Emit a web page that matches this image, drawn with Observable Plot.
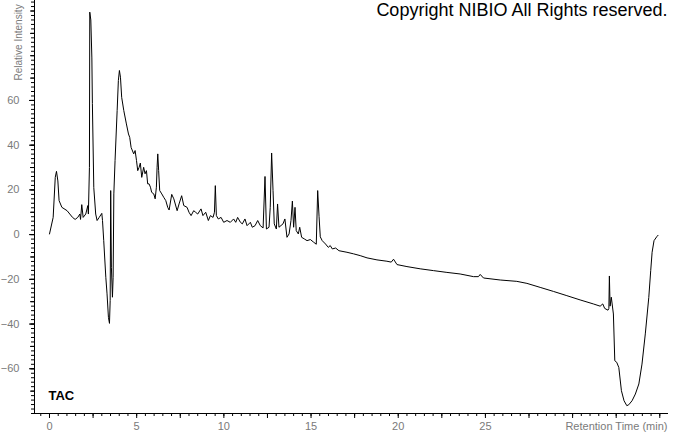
<!DOCTYPE html>
<html>
<head>
<meta charset="utf-8">
<script src="https://cdn.jsdelivr.net/npm/d3@7"></script>
<script src="https://cdn.jsdelivr.net/npm/@observablehq/plot@0.6"></script>
<style>
  html, body { margin: 0; padding: 0; background: #fff; }
  #chart svg { display: block; }
</style>
</head>
<body>
<div id="chart"></div>
<script>
// Retention time (min)
const times = [
  0.00, 0.21, 0.33, 0.40, 0.48, 0.55, 0.71, 1.01, 1.32, 1.47, 1.62, 1.74, 1.78, 1.85, 1.93, 2.08, 2.20, 2.23, 2.29, 2.31,
  2.37, 2.43, 2.46, 2.54, 2.65, 2.73, 2.85, 3.00, 3.04, 3.11, 3.23, 3.30, 3.38, 3.44, 3.48, 3.51, 3.55, 3.61, 3.65, 3.69,
  3.76, 3.88, 3.95, 4.01, 4.07, 4.14, 4.26, 4.41, 4.53, 4.60, 4.68, 4.83, 4.91, 4.99, 5.06, 5.14, 5.21, 5.29, 5.40, 5.48,
  5.56, 5.63, 5.71, 5.79, 5.86, 5.98, 6.06, 6.13, 6.17, 6.21, 6.26, 6.32, 6.44, 6.55, 6.67, 6.78, 6.86, 7.01, 7.13, 7.32,
  7.43, 7.58, 7.70, 7.89, 8.00, 8.12, 8.27, 8.38, 8.50, 8.69, 8.80, 8.96, 9.11, 9.23, 9.38, 9.46, 9.51, 9.57, 9.68, 9.84,
  9.99, 10.18, 10.37, 10.56, 10.68, 10.79, 10.95, 11.06, 11.21, 11.33, 11.52, 11.63, 11.79, 11.94, 12.09, 12.25, 12.36, 12.44, 12.59, 12.66,
  12.74, 12.82, 12.89, 13.01, 13.08, 13.16, 13.39, 13.50, 13.62, 13.74, 13.85, 13.93, 14.00, 14.08, 14.15, 14.27, 14.35, 14.46, 14.61, 14.77,
  14.96, 15.15, 15.30, 15.38, 15.46, 15.53, 15.64, 15.83, 15.99, 16.10, 16.22, 16.41, 16.60, 17.06, 17.44, 17.82, 18.21, 18.78, 19.35, 19.60,
  19.73, 19.93, 20.50, 21.26, 22.02, 22.79, 23.55, 24.32, 24.60, 24.70, 24.89, 25.85, 26.80, 27.38, 28.14, 28.90, 29.67, 30.43, 31.19, 31.58,
  31.73, 31.84, 32.03, 32.08, 32.11, 32.15, 32.22, 32.34, 32.42, 32.53, 32.65, 32.80, 32.95, 33.11, 33.22, 33.41, 33.60, 33.80, 33.98, 34.17,
  34.37, 34.48, 34.56, 34.67, 34.83, 34.90
];
// Relative intensity
const intensity = [
  0.3, 7.7, 25.6, 28.3, 24, 15.2, 12.2, 10.7, 7.7, 6.8, 7.7, 9.2, 6.8, 13.4, 7.7, 9.2, 13, 9.2, 30, 99.5,
  96, 79, 58.6, 21, 9.2, 6.3, 7.7, 9.5, 6.3, -2.7, -19.1, -26.5, -37, -39.7, -29.5, 19.7, -14.6, -28, -19.1, 18.2,
  33.1, 55.5, 68.9, 73.4, 70.4, 61.4, 55.5, 49.5, 45, 43.5, 39, 36.1, 37.6, 33.1, 28.6, 30.1, 32, 25.6, 30.1, 27.2,
  28.6, 22.7, 22.7, 21.2, 18.9, 18.2, 16, 21.2, 30.1, 36.1, 28.6, 19.7, 18.2, 16.7, 15.2, 12.2, 11, 18, 16, 10.7,
  13.7, 17.4, 13, 12.2, 10, 8.5, 10.7, 10, 9.2, 11.5, 8.5, 10, 6.3, 8.5, 7.7, 10, 21.9, 8.5, 7, 7.7,
  5.5, 6.3, 5.5, 7, 5.5, 7.7, 5.5, 4.8, 7, 4, 5.5, 3.3, 4, 6.3, 4, 3, 26, 2.5, 3.3, 12.2,
  36.5, 19.7, 4.8, 2.5, 13.7, 3.3, 4.8, 7, -1.2, 0.3, 6.3, 15, 3.3, 12.2, 1.8, 0.3, 3.3, -1.2, -1.9, -2.7,
  -2.2, -3.4, -4.3, 19.7, 8, -1, -2.7, -4.2, -5.7, -4.9, -6.4, -6, -7.2, -7.9, -8.6, -9.4, -10.4, -11.3, -11.9, -12.3,
  -11, -13.4, -14.3, -15.3, -16.1, -16.9, -17.6, -18.8, -18.8, -17.8, -19.4, -20.3, -20.9, -21.8, -23.6, -25.4, -27.3, -29.2, -31, -32,
  -31, -33, -33.8, -33, -18.5, -32, -28, -35.5, -56.4, -57.1, -59.4, -69.8, -74.3, -76.5, -76.1, -74.3, -71.3, -66.8, -57.9, -44.4,
  -28.1, -16.1, -7.9, -2.7, -0.9, -0.3
];

const xDomain = [-0.86, 35.5];
const yDomain = [-80, 104.7];
const xLabelTicks = [0, 5, 10, 15, 20, 25];
const xMajorTicks = d3.range(0, 35.01, 2.5);
const xMinorTicks = d3.range(-0.5, 35.01, 0.5);
const yLabelTicks = [-60, -40, -20, 0, 20, 40, 60];
const yMidTicks = d3.range(-70, 101, 10);
const yMinorTicks = d3.range(-80, 105, 2);

const titleText = "Copyright NIBIO All Rights reserved.";
const yLabel = "Relative Intensity";
const xLabel = "Retention Time (min)";
const traceLabel = "TAC";

const data = times.map((t, i) => ({t, v: intensity[i]}));

const font = "'Liberation Sans', Arial, sans-serif";
const labelColor = "#7a7a7a";

const chart = Plot.plot({
  width: 674,
  height: 434,
  marginLeft: 34,
  marginRight: 6,
  marginTop: 0,
  marginBottom: 21,
  style: {fontFamily: font, background: "#fff", overflow: "visible"},
  x: {domain: xDomain},
  y: {domain: yDomain},
  marks: [
    // minor/major ticks on y axis (left)
    Plot.axisY({ticks: yMinorTicks, tickSize: 3, tickFormat: () => "", stroke: "#000", strokeOpacity: 1, label: null}),
    Plot.axisY({ticks: yMidTicks, tickSize: 4, tickFormat: () => "", stroke: "#000", strokeOpacity: 1, label: null}),
    Plot.axisY({ticks: yLabelTicks, tickSize: 5, tickPadding: 10, fontSize: 11, fill: labelColor, stroke: "#000", strokeOpacity: 1, label: null}),
    // x axis ticks (bottom)
    Plot.axisX({ticks: xMinorTicks, tickSize: 3, tickFormat: () => "", stroke: "#000", strokeOpacity: 1, label: null}),
    Plot.axisX({ticks: xMajorTicks, tickSize: 5, tickFormat: () => "", stroke: "#000", strokeOpacity: 1, label: null}),
    Plot.axisX({ticks: xLabelTicks, tickSize: 0, tickPadding: 9, fontSize: 11, fill: labelColor, label: null}),
    // axis lines
    Plot.ruleX([xDomain[0]], {stroke: "#000", strokeWidth: 1}),
    Plot.ruleY([yDomain[0]], {stroke: "#000", strokeWidth: 1}),
    // trace
    Plot.line(data, {x: "t", y: "v", stroke: "#000", strokeWidth: 1, curve: "linear"}),
    // texts
    Plot.text([titleText], {frameAnchor: "top-right", textAnchor: "end", lineAnchor: "top", dx: -1, dy: 3, fontSize: 18, fill: "#000"}),
    Plot.text([traceLabel], {frameAnchor: "bottom-left", textAnchor: "start", lineAnchor: "bottom", dx: 14, dy: -14, fontSize: 13, fontWeight: "bold", fill: "#000"}),
    Plot.text([yLabel], {frameAnchor: "top-left", textAnchor: "start", lineAnchor: "middle", rotate: -90, dx: -16, dy: 80, fontSize: 10, fill: labelColor}),
    Plot.text([xLabel], {frameAnchor: "bottom-right", textAnchor: "end", lineAnchor: "top", dx: -1, dy: 9, fontSize: 11, fill: labelColor})
  ]
});
document.getElementById("chart").appendChild(chart);
</script>
</body>
</html>
